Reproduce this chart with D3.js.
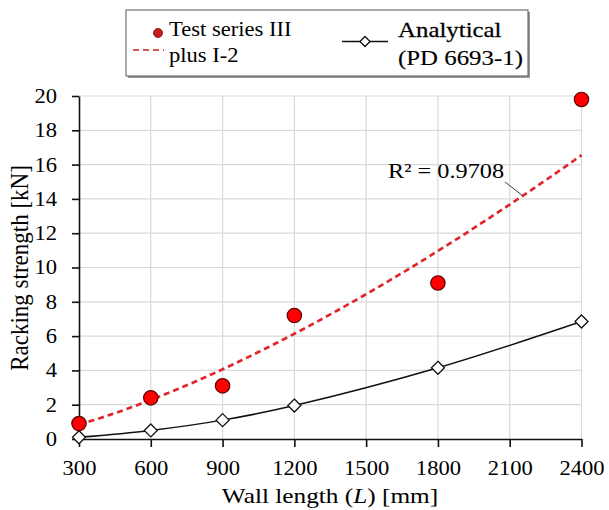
<!DOCTYPE html>
<html><head><meta charset="utf-8">
<script src="https://cdn.jsdelivr.net/npm/d3@7"></script>
<style>
html,body{margin:0;padding:0;background:#fff;}
text{font-family:"Liberation Serif","Times New Roman",serif;fill:#000;}
</style></head>
<body>
<svg id="c" width="609" height="510"></svg>
<script>
// ---- data ----
const wallLengths = [300, 600, 900, 1200, 1800, 2400];
const testSeries = [0.9, 2.4, 3.1, 7.2, 9.1, 19.8];
const analytical = [0.1, 0.5, 1.1, 1.95, 4.15, 6.85];
const xTicks = [300, 600, 900, 1200, 1500, 1800, 2100, 2400];
const yTicks = [0, 2, 4, 6, 8, 10, 12, 14, 16, 18, 20];
const r2Label = "R² = 0.9708";

const SX = 1.13; // horizontal text stretch of the reference
const svg = d3.select("#c");
const x = d3.scaleLinear().domain([300, 2400]).range([79, 581.5]);
const y = d3.scaleLinear().domain([0, 20]).range([439, 96]);

function txt(g, str, tx, ty, size, anchor, sx) {
  return g.append("text")
    .attr("transform", `translate(${tx},${ty}) scale(${sx || SX},1)`)
    .attr("text-anchor", anchor || "start")
    .style("font-size", size + "px")
    .text(str);
}

// grid
const grid = svg.append("g");
grid.selectAll("line.v").data(xTicks.slice(1)).join("line")
  .attr("x1", d => x(d)).attr("x2", d => x(d)).attr("y1", y(20)).attr("y2", y(0))
  .attr("stroke", "#d9d9d9").attr("stroke-width", 1.2);
grid.selectAll("line.h").data(yTicks.slice(1)).join("line")
  .attr("x1", x(300)).attr("x2", x(2400)).attr("y1", d => y(d)).attr("y2", d => y(d))
  .attr("stroke", "#d9d9d9").attr("stroke-width", 1.2);

// axes
const xAxis = svg.append("g").attr("transform", `translate(0,${y(0)})`)
  .call(d3.axisBottom(x).tickValues(xTicks).tickFormat(d3.format("d"))
    .tickSize(8).tickPadding(14).tickSizeOuter(0));
xAxis.selectAll("text").style("font-size", "20px").attr("transform", `scale(${SX},1)`)
  .style("font-family", '"Liberation Serif",serif').attr("fill", "#000");
const yAxis = svg.append("g").attr("transform", `translate(${x(300)},0)`)
  .call(d3.axisLeft(y).tickValues(yTicks).tickFormat(d3.format("d"))
    .tickSize(7).tickPadding(15).tickSizeOuter(0));
yAxis.selectAll("text").style("font-size", "20px").attr("x", -22 / SX)
  .attr("transform", `scale(${SX},1)`)
  .style("font-family", '"Liberation Serif",serif').attr("fill", "#000");
svg.selectAll(".domain, .tick line").attr("stroke", "#111").attr("stroke-width", 1.6);

// axis titles
const xt = txt(svg, "", 330, 503, 22, "middle", 1.15);
xt.append("tspan").text("Wall length (");
xt.append("tspan").style("font-style", "italic").text("L");
xt.append("tspan").text(") [mm]");
svg.append("text")
  .attr("transform", `translate(28,268) scale(${SX},1) rotate(-90)`)
  .attr("text-anchor", "middle").style("font-size", "23px")
  .text("Racking strength [kN]");

// power trendline fitted to the test series (least squares in log space)
const lx = wallLengths.map(Math.log), ly = testSeries.map(Math.log);
const mx = d3.mean(lx), my = d3.mean(ly);
const b = d3.sum(lx, (v, i) => (v - mx) * (ly[i] - my)) / d3.sum(lx, v => (v - mx) ** 2);
const a = Math.exp(my - b * mx);
const trendX = d3.range(300, 2401, 15);
svg.append("path")
  .attr("d", d3.line().x(d => x(d)).y(d => y(a * Math.pow(d, b)))(trendX))
  .attr("fill", "none").attr("stroke", "#e0262c").attr("stroke-width", 2.7)
  .attr("stroke-dasharray", "6,4");

// analytical line
svg.append("path")
  .attr("d", d3.line().x((d, i) => x(wallLengths[i])).y(d => y(d))
    .curve(d3.curveCatmullRom.alpha(0.5))(analytical))
  .attr("fill", "none").attr("stroke", "#111").attr("stroke-width", 1.5);

const diamond = r => `M0,${-r}L${r},0L0,${r}L${-r},0Z`;
svg.selectAll("path.dia").data(analytical).join("path").attr("class", "dia")
  .attr("transform", (d, i) => `translate(${x(wallLengths[i])},${y(d)})`)
  .attr("d", diamond(6.5)).attr("fill", "#fff").attr("stroke", "#111").attr("stroke-width", 1.3);

// test points
svg.selectAll("circle.pt").data(testSeries).join("circle").attr("class", "pt")
  .attr("cx", (d, i) => x(wallLengths[i])).attr("cy", d => y(d)).attr("r", 7.2)
  .attr("fill", "#ff0000").attr("stroke", "#5a0000").attr("stroke-width", 1.2);

// R² label + leader
svg.append("line").attr("x1", 505).attr("y1", 182).attr("x2", 523).attr("y2", 196)
  .attr("stroke", "#404040").attr("stroke-width", 1);
txt(svg, r2Label, 388, 178, 21.5, "start");

// legend
const lg = svg.append("g");
lg.append("rect").attr("x", 128).attr("y", 12).attr("width", 402).attr("height", 66).attr("fill", "#9a9a9a");
lg.append("rect").attr("x", 126).attr("y", 10).attr("width", 402).attr("height", 66)
  .attr("fill", "#fff").attr("stroke", "#555").attr("stroke-width", 1);
lg.append("circle").attr("cx", 158).attr("cy", 33).attr("r", 4.5)
  .attr("fill", "#c41e1e").attr("stroke", "#7a0000").attr("stroke-width", 0.8);
lg.append("line").attr("x1", 133).attr("x2", 164).attr("y1", 50).attr("y2", 50)
  .attr("stroke", "#d45a5a").attr("stroke-width", 2.2).attr("stroke-dasharray", "6,4");
txt(lg, "Test series III", 169, 36, 20, "start");
txt(lg, "plus I-2", 169, 62, 20, "start");
lg.append("line").attr("x1", 342).attr("x2", 388).attr("y1", 41.5).attr("y2", 41.5)
  .attr("stroke", "#111").attr("stroke-width", 1.6);
lg.append("path").attr("transform", "translate(365,41.5)").attr("d", diamond(5))
  .attr("fill", "#fff").attr("stroke", "#111").attr("stroke-width", 1.3);
txt(lg, "Analytical", 398, 36.5, 22, "start").attr("stroke", "#000").attr("stroke-width", 0.25);
txt(lg, "(PD 6693-1)", 398, 65, 22, "start").attr("stroke", "#000").attr("stroke-width", 0.15);
</script>
</body></html>
